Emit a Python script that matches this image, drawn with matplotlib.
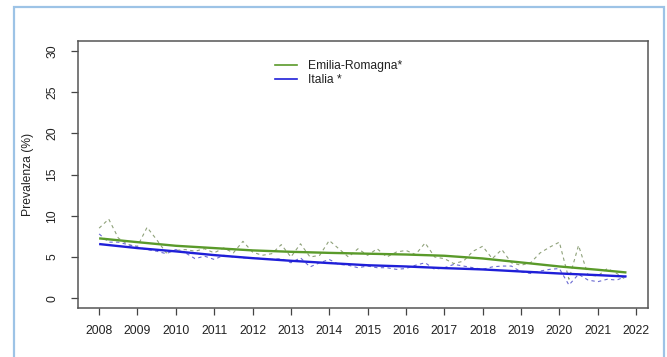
import numpy as np
import matplotlib
matplotlib.use("Agg")
import matplotlib.pyplot as plt
from matplotlib.patches import Rectangle
from matplotlib.lines import Line2D

plt.rcParams["font.family"] = ["Liberation Sans", "DejaVu Sans"]

# Quarterly observations, 2008 Q1 .. 2021 Q4
trimestri = np.arange(2008, 2022, 0.25)

er_trimestrale = [8.5, 9.6, 7.3, 6.5, 6.3, 8.6, 7.1, 5.5,
                  5.8, 5.9, 5.7, 6.0, 5.5, 6.1, 5.5, 6.9,
                  5.6, 5.2, 5.4, 6.5, 5.0, 6.6, 5.0, 5.2,
                  7.0, 6.0, 5.0, 6.0, 5.2, 6.0, 5.0, 5.6,
                  5.8, 5.3, 6.7, 5.0, 4.8, 4.2, 4.5, 5.7,
                  6.3, 4.8, 5.9, 4.3, 4.0, 4.3, 5.5, 6.2,
                  6.8, 2.3, 6.4, 2.8, 2.7, 3.6, 3.0, 2.2]

it_trimestrale = [7.8, 6.8, 6.8, 6.5, 6.2, 5.9, 5.7, 5.4,
                  5.9, 5.5, 4.8, 5.1, 4.7, 5.2, 5.0, 4.9,
                  4.9, 4.8, 4.7, 4.8, 4.3, 4.9, 3.8, 4.3,
                  4.7, 4.1, 4.0, 3.7, 3.9, 3.7, 3.7, 3.5,
                  3.6, 4.0, 4.3, 3.5, 3.7, 4.1, 3.9, 3.7,
                  3.5, 3.8, 3.9, 3.9, 3.2, 3.0, 3.3, 3.5,
                  3.6, 1.6, 2.9, 2.2, 2.0, 2.3, 2.2, 2.7]

# Smoothed trend
anni_trend = [2008, 2009, 2010, 2011, 2012, 2013, 2014, 2015,
              2016, 2017, 2018, 2019, 2020, 2021, 2021.75]
er_trend = [7.26, 6.8, 6.36, 6.08, 5.8, 5.63, 5.5, 5.4,
            5.3, 5.15, 4.82, 4.34, 3.85, 3.45, 3.12]
it_trend = [6.57, 6.08, 5.68, 5.23, 4.86, 4.54, 4.26, 4.0,
            3.85, 3.65, 3.49, 3.24, 3.0, 2.8, 2.63]

anni_tick = list(range(2008, 2023))
y_tick = [0, 5, 10, 15, 20, 25, 30]

verde = "#5a9a2a"
blu = "#1f1fd8"
verde_chiaro = "#8fa27a"
blu_chiaro = "#6a6ad2"

fig = plt.figure(figsize=(6.67, 3.57), dpi=100)
ax = fig.add_axes([0.117, 0.137, 0.855, 0.748])

dash = (0, (3, 3))
ax.plot(trimestri, er_trimestrale, color=verde_chiaro, lw=0.8, linestyle=dash)
ax.plot(trimestri, it_trimestrale, color=blu_chiaro, lw=0.8, linestyle=dash)
ax.plot(anni_trend, er_trend, color=verde, lw=1.7, solid_capstyle="butt")
ax.plot(anni_trend, it_trend, color=blu, lw=1.7, solid_capstyle="butt")

ax.set_xlim(2007.45, 2022.32)
ax.set_ylim(-1.2, 31.2)
ax.set_xticks(anni_tick)
ax.set_xticklabels([str(a) for a in anni_tick])
ax.set_yticks(y_tick)
ax.set_yticklabels([str(v) for v in y_tick], rotation=90, va="center")

ax.tick_params(axis="both", direction="out", length=5, width=0.9,
               color="#444444", labelsize=8.7, labelcolor="#222222")
ax.tick_params(axis="x", pad=7)
ax.tick_params(axis="y", pad=9)
for s in ax.spines.values():
    s.set_color("#555555")
    s.set_linewidth(1.1)

ax.set_ylabel("Prevalenza (%)", fontsize=8.7, color="#222222", labelpad=9)

handles = [Line2D([], [], color=verde, lw=1.2),
           Line2D([], [], color=blu, lw=1.2)]
ax.legend(handles, ["Emilia-Romagna*", "Italia *"], loc="upper left",
          bbox_to_anchor=(0.345, 0.928), frameon=False, fontsize=8.7,
          handlelength=1.85, handletextpad=0.9, labelspacing=0.15,
          borderpad=0, borderaxespad=0, labelcolor="#222222")

fig.add_artist(Rectangle((14 / 667, -0.1), 650 / 667, 1.1 - 7 / 357,
                         transform=fig.transFigure, fill=False,
                         edgecolor="#9dc3e6", linewidth=1.6))

fig.savefig("out.png", dpi=100, facecolor="white")
